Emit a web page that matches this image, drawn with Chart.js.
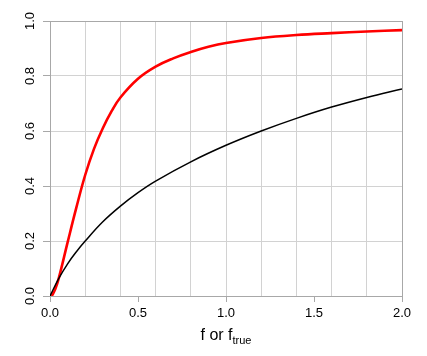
<!DOCTYPE html>
<html>
<head>
<meta charset="utf-8">
<script src="https://cdn.jsdelivr.net/npm/chart.js@4/dist/chart.umd.min.js"></script>
<style>
  html, body { margin: 0; padding: 0; background: #fff; }
  #wrap { width: 427px; height: 356px; }
</style>
</head>
<body>
<div id="wrap"><canvas id="fChart" width="427" height="356"></canvas></div>
<script>
// values
const redX = [0.01, 0.03, 0.05, 0.1, 0.15, 0.2, 0.25, 0.3, 0.35, 0.4, 0.5, 0.6, 0.7, 0.8, 0.9, 1.0, 1.2, 1.4, 1.6, 1.8, 2.0];
const redY = [0, 0.025, 0.065, 0.195, 0.322, 0.44, 0.535, 0.61, 0.672, 0.722, 0.79, 0.834, 0.864, 0.887, 0.906, 0.92, 0.938, 0.949, 0.956, 0.962, 0.967];
const blackX = [0, 0.05, 0.1, 0.15, 0.2, 0.3, 0.4, 0.5, 0.6, 0.8, 1.0, 1.2, 1.4, 1.6, 1.8, 2.0];
const blackY = [0, 0.064, 0.117, 0.161, 0.2, 0.27, 0.327, 0.376, 0.418, 0.488, 0.548, 0.6, 0.646, 0.687, 0.722, 0.753];
const xTicks = [0, 0.5, 1.0, 1.5, 2.0];
const yTicks = [0, 0.2, 0.4, 0.6, 0.8, 1.0];
const xTitle = "f or f";
const xTitleSub = "true";

const FONT = "'Liberation Sans', Arial, sans-serif";
const AXIS = "#a8a8a8";
const GRID = "#d2d2d2";

function pts(xs, ys) {
  return xs.map((x, i) => ({ x: x, y: ys[i] }));
}

// rotated y labels and the x title with subscript
const labelsPlugin = {
  id: "labels",
  afterDraw(chart) {
    const c = chart.ctx;
    const y = chart.scales.y;
    c.save();
    c.fillStyle = "#000";
    c.font = "13px " + FONT;
    c.textAlign = "center";
    c.textBaseline = "alphabetic";
    yTicks.forEach((v) => {
      const py = y.getPixelForValue(v);
      c.save();
      c.translate(33.5, py);
      c.rotate(-Math.PI / 2);
      c.fillText(v.toFixed(1), 0, 0);
      c.restore();
    });

    // x title
    const a = chart.chartArea;
    const cx = (a.left + a.right) / 2;
    c.font = "16px " + FONT;
    const w1 = c.measureText(xTitle).width;
    c.font = "11px " + FONT;
    const w2 = c.measureText(xTitleSub).width;
    const start = cx - (w1 + w2) / 2;
    c.textAlign = "left";
    c.font = "16px " + FONT;
    c.fillText(xTitle, start, 340);
    c.font = "11px " + FONT;
    c.fillText(xTitleSub, start + w1, 344);
    c.restore();
  },
};

new Chart(document.getElementById("fChart").getContext("2d"), {
  type: "scatter",
  data: {
    datasets: [
      {
        data: pts(blackX, blackY),
        showLine: true,
        borderColor: "#000",
        borderWidth: 1.5,
        pointRadius: 0,
        tension: 0.4,
      },
      {
        data: pts(redX, redY),
        showLine: true,
        borderColor: "#ff0000",
        borderWidth: 2.6,
        pointRadius: 0,
        tension: 0.4,
      },
    ],
  },
  options: {
    responsive: false,
    animation: false,
    layout: { padding: { left: 0, top: 21, right: 25, bottom: 0 } },
    plugins: { legend: { display: false }, tooltip: { enabled: false } },
    scales: {
      x: {
        type: "linear",
        position: "bottom",
        min: 0,
        max: 2,
        afterBuildTicks: (s) => { s.ticks = xTicks.map((v) => ({ value: v })); },
        ticks: {
          color: "#000",
          font: { family: FONT, size: 13 },
          padding: 4,
          maxRotation: 0,
          callback: (v) => Number(v).toFixed(1),
        },
        grid: { drawOnChartArea: false, tickLength: 6, tickColor: AXIS },
        border: { color: AXIS, width: 1 },
        afterFit: (s) => { s.height = 60; },
      },
      xGrid: {
        type: "linear",
        position: "top",
        min: 0,
        max: 2,
        ticks: { display: false, stepSize: 0.2 },
        grid: { color: GRID, drawTicks: false },
        border: { color: AXIS, width: 1 },
        afterFit: (s) => { s.height = 0; },
      },
      y: {
        type: "linear",
        position: "left",
        min: 0,
        max: 1,
        afterBuildTicks: (s) => { s.ticks = yTicks.map((v) => ({ value: v })); },
        ticks: { color: "rgba(0,0,0,0)", font: { family: FONT, size: 13 } },
        grid: { color: GRID, tickLength: 7, tickColor: AXIS },
        border: { color: AXIS, width: 1 },
        afterFit: (s) => { s.width = 50; },
      },
      yRight: {
        type: "linear",
        position: "right",
        min: 0,
        max: 1,
        ticks: { display: false },
        grid: { display: false },
        border: { color: AXIS, width: 1 },
        afterFit: (s) => { s.width = 0; },
      },
    },
  },
  plugins: [labelsPlugin],
});
</script>
</body>
</html>
